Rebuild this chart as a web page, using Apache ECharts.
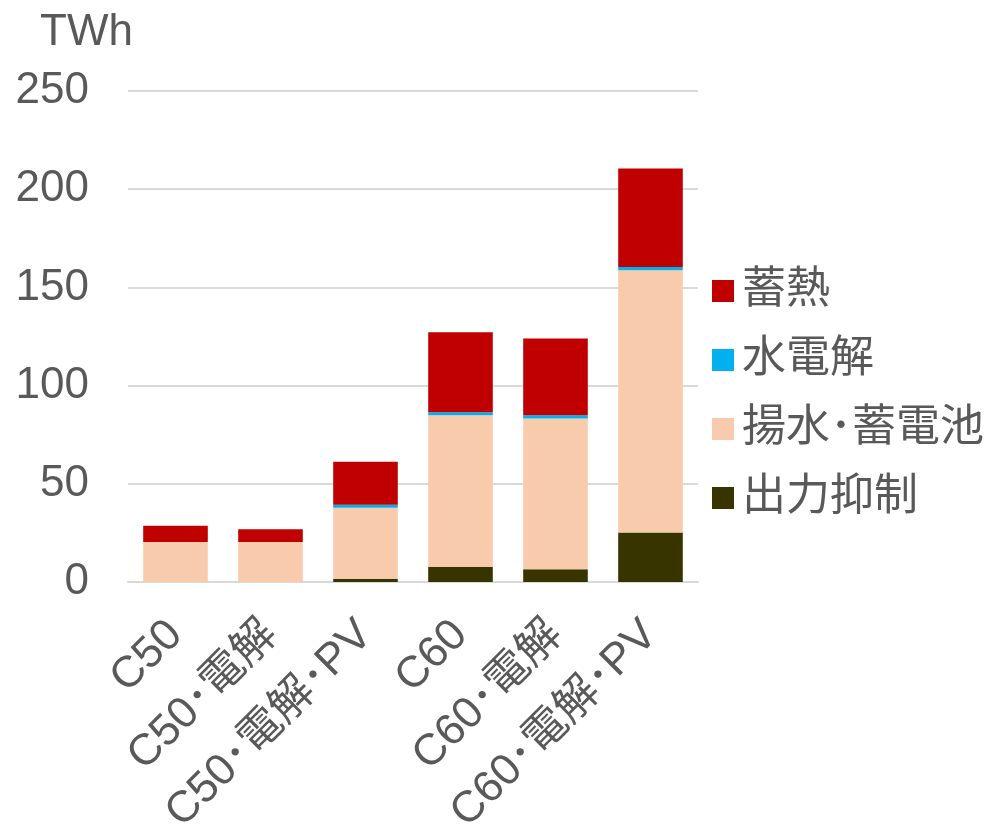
<!DOCTYPE html>
<html>
<head>
<meta charset="utf-8">
<script src="https://cdn.jsdelivr.net/npm/echarts@6/dist/echarts.min.js"></script>
<style>
  html, body { margin: 0; padding: 0; background: #ffffff; }
  #chart { width: 1003px; height: 834px; }
</style>
</head>
<body>
<div id="chart"></div>
<script>
// Scenario names along the category axis
const categories = ['C50', 'C50･電解', 'C50･電解･PV', 'C60', 'C60･電解', 'C60･電解･PV'];

// Stacked amounts per scenario, TWh (bottom to top)
const curtailment = [0, 0, 1.7, 7.8, 6.5, 25.2];          // 出力抑制
const pumpedBattery = [20.4, 20.4, 36.1, 77.1, 76.7, 133.5]; // 揚水･蓄電池
const electrolysis = [0, 0, 1.5, 1.5, 1.7, 1.7];            // 水電解
const heatStorage = [8.2, 6.5, 21.9, 40.8, 39.1, 50.1];     // 蓄熱

const yTicks = { min: 0, max: 250, interval: 50 };

const FONT = '"Liberation Sans", Arial, "Noto Sans CJK JP", sans-serif';
const TEXT = '#595959';
const SIZE = 44;

const chart = echarts.init(document.getElementById('chart'), null, { renderer: 'canvas' });

function bar(name, data, color) {
  return {
    name: name,
    type: 'bar',
    stack: 'total',
    data: data,
    barCategoryGap: '32%',
    itemStyle: { color: color },
    emphasis: { disabled: true }
  };
}

chart.setOption({
  animation: false,
  textStyle: { fontFamily: FONT },
  grid: {
    left: 128, right: 305, top: 91, bottom: 252,
    containLabel: false,
    outerBoundsMode: 'none'
  },
  title: {
    text: 'TWh',
    left: 40,
    top: 11,
    padding: 0,
    textStyle: { fontFamily: FONT, fontSize: SIZE, fontWeight: 'normal', color: TEXT }
  },
  legend: {
    orient: 'vertical',
    left: 712,
    top: 269,
    padding: 0,
    itemWidth: 22,
    itemHeight: 22,
    itemGap: 25,
    icon: 'rect',
    data: ['蓄熱', '水電解', '揚水･蓄電池', '出力抑制'],
    textStyle: { fontFamily: FONT, fontSize: SIZE, color: TEXT, padding: [0, 0, 0, 3] }
  },
  xAxis: {
    type: 'category',
    data: categories,
    axisLine: { show: true, lineStyle: { color: '#d9d9d9', width: 2 } },
    axisTick: { show: false },
    axisLabel: {
      rotate: 45,
      interval: 0,
      margin: 46,
      fontFamily: FONT,
      fontSize: SIZE,
      color: TEXT
    }
  },
  yAxis: {
    type: 'value',
    min: yTicks.min,
    max: yTicks.max,
    interval: yTicks.interval,
    axisLine: { show: false },
    axisTick: { show: false },
    splitLine: { lineStyle: { color: '#d9d9d9', width: 2 } },
    axisLabel: { margin: 39, fontFamily: FONT, fontSize: SIZE, color: TEXT }
  },
  series: [
    bar('出力抑制', curtailment, '#383400'),
    bar('揚水･蓄電池', pumpedBattery, '#F8CBAD'),
    bar('水電解', electrolysis, '#00B0F0'),
    bar('蓄熱', heatStorage, '#C00000')
  ]
});
</script>
</body>
</html>
